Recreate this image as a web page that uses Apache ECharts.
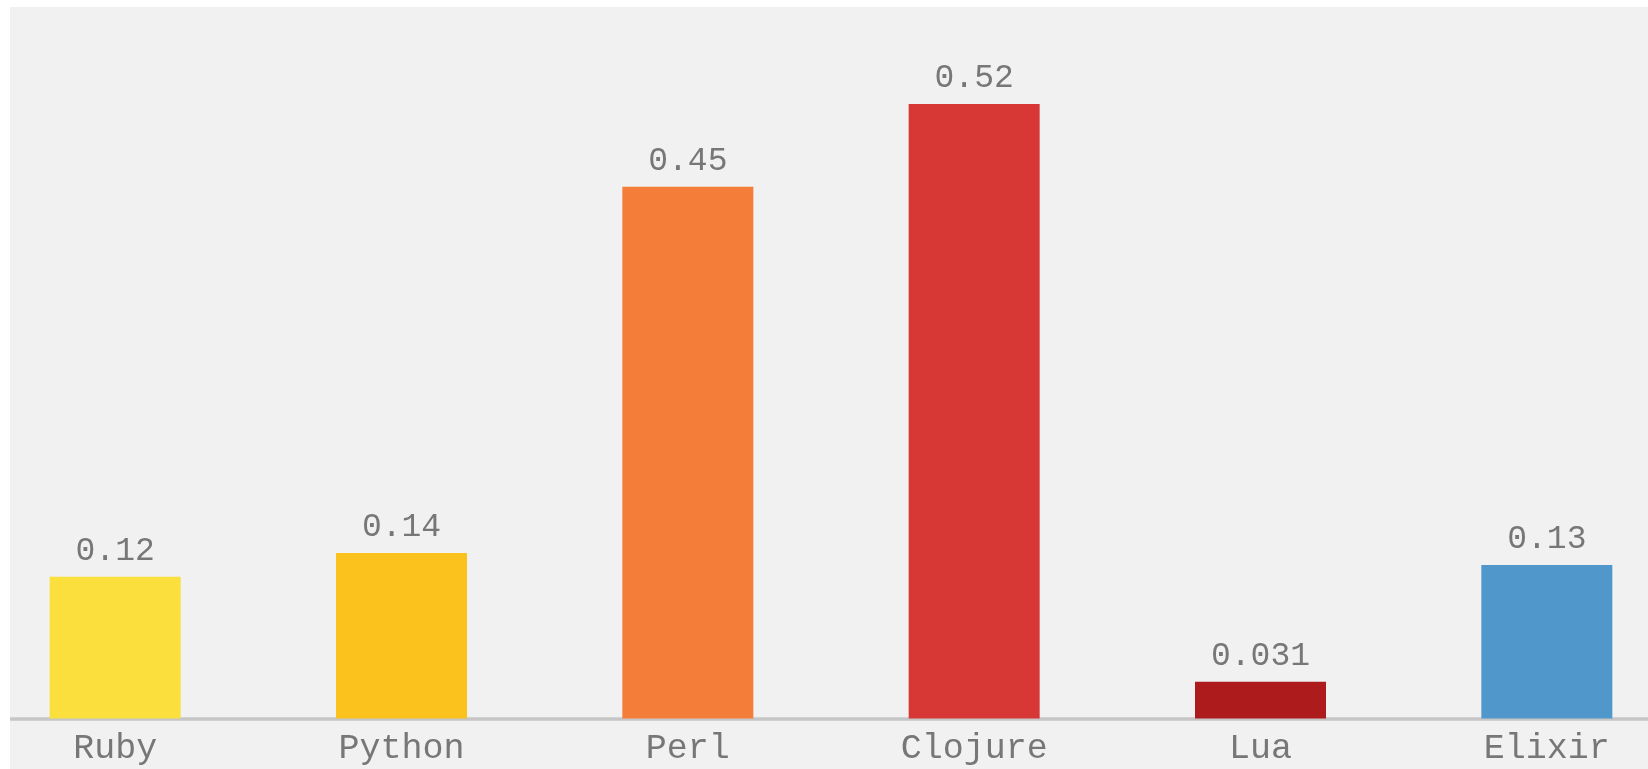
<!DOCTYPE html>
<html>
<head>
<meta charset="utf-8">
<script src="https://cdn.jsdelivr.net/npm/echarts@6/dist/echarts.min.js"></script>
<style>
  html, body { margin: 0; padding: 0; background: #ffffff; width: 1648px; height: 769px; overflow: hidden; }
  #wrap { position: absolute; left: 10px; top: 7px; width: 1638px; height: 762px; overflow: hidden; background: #f1f1f1; }
  #chart { position: absolute; left: -37.6px; top: 0; width: 1718px; height: 762px; }
</style>
</head>
<body>
<div id="wrap"><div id="chart"></div></div>
<script>
const categories = ['Ruby', 'Python', 'Perl', 'Clojure', 'Lua', 'Elixir'];
const values = [0.12, 0.14, 0.45, 0.52, 0.031, 0.13];
const barColors = ['#fbdf3c', '#fbc21e', '#f47e39', '#d73836', '#ad1b1c', '#5097cc'];

const chart = echarts.init(document.getElementById('chart'));
chart.setOption({
  backgroundColor: '#f1f1f1',
  animation: false,
  grid: { left: 0, right: 0, top: 2.6, bottom: 50.5, containLabel: false, outerBoundsMode: 'none' },
  xAxis: {
    type: 'category',
    data: categories,
    offset: 3.5,
    axisLine: { show: true, lineStyle: { color: '#c6c6c6', width: 3.5 } },
    axisTick: { show: false },
    axisLabel: {
      color: '#777777',
      fontFamily: 'Liberation Mono',
      fontSize: 35,
      margin: 9
    },
    splitLine: { show: false }
  },
  yAxis: {
    type: 'value',
    show: false,
    min: 0,
    max: 0.6,
    splitLine: { show: false }
  },
  series: [{
    type: 'bar',
    barWidth: 131,
    data: values.map((v, i) => ({ value: v, itemStyle: { color: barColors[i] } })),
    label: {
      show: true,
      position: 'top',
      distance: 9,
      color: '#777777',
      fontFamily: 'Liberation Mono',
      fontSize: 33,
      formatter: p => String(p.value)
    }
  }]
});
</script>
</body>
</html>
